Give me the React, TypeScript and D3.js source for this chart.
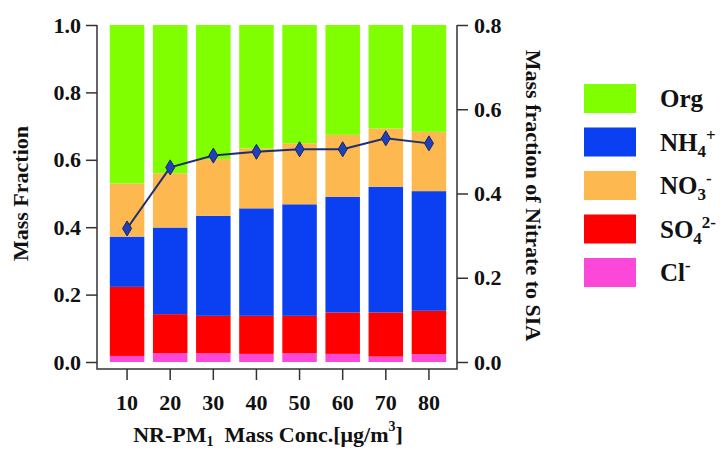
import { useEffect, useRef } from "react";
import * as d3 from "d3";

// NR-PM1 mass concentration bins
const concLabels = ["10", "20", "30", "40", "50", "60", "70", "80"];

// species mass fractions per bin (bottom to top of stack)
const clFrac = [0.018, 0.026, 0.026, 0.024, 0.026, 0.024, 0.016, 0.023];
const so4Frac = [0.205, 0.116, 0.111, 0.113, 0.111, 0.123, 0.131, 0.129];
const nh4Frac = [0.149, 0.257, 0.297, 0.319, 0.331, 0.343, 0.373, 0.355];
const no3Frac = [0.158, 0.161, 0.168, 0.178, 0.181, 0.184, 0.173, 0.176];
const orgFrac = [0.47, 0.44, 0.398, 0.366, 0.351, 0.326, 0.307, 0.317];

// nitrate / SIA (right axis)
const nitrateToSIA = [0.317, 0.462, 0.49, 0.499, 0.505, 0.505, 0.531, 0.519];

const leftTicks = [0, 0.2, 0.4, 0.6, 0.8, 1.0];
const rightTicks = [0, 0.2, 0.4, 0.6, 0.8];

const stackKeys = ["Cl", "SO4", "NH4", "NO3", "Org"];
const colors: Record<string, string> = {
  Org: "#80ff00",
  NH4: "#0a3ff2",
  NO3: "#fdb84f",
  SO4: "#ff0000",
  Cl: "#fb48d8",
};
// legend entries top-down: [key, base, sub, sup]
const legendItems: [string, string, string, string][] = [
  ["Org", "Org", "", ""],
  ["NH4", "NH", "4", "+"],
  ["NO3", "NO", "3", "-"],
  ["SO4", "SO", "4", "2-"],
  ["Cl", "Cl", "", "-"],
];

const FONT = "'Liberation Serif', 'Times New Roman', serif";

export default function App() {
  const svgRef = useRef<SVGSVGElement>(null);

  useEffect(() => {
    const svg = d3.select(svgRef.current);
    svg.selectAll("*").remove();

    const left = 97, right = 457, bottom = 369;
    const yLeft = d3.scaleLinear().domain([0, 1]).range([362, 25]);
    const yRight = d3.scaleLinear().domain([0, 0.8]).range([362, 25]);
    const x = d3
      .scaleBand<string>()
      .domain(concLabels)
      .range([105.5, 450.5])
      .paddingInner(0.2)
      .paddingOuter(0.1);

    const table = concLabels.map((c, i) => ({
      conc: c,
      Cl: clFrac[i],
      SO4: so4Frac[i],
      NH4: nh4Frac[i],
      NO3: no3Frac[i],
      Org: orgFrac[i],
    }));
    const series = d3.stack<any>().keys(stackKeys)(table);

    const bars = svg.append("g");
    series.forEach((s) => {
      bars
        .selectAll(null)
        .data(s)
        .join("rect")
        .attr("x", (d: any) => x(d.data.conc)!)
        .attr("width", x.bandwidth())
        .attr("y", (d) => yLeft(d[1]))
        .attr("height", (d) => yLeft(d[0]) - yLeft(d[1]))
        .attr("fill", colors[s.key]);
    });

    // frame
    const axisColor = "#333";
    svg.append("path")
      .attr("d", `M${left},${yLeft(1)}V${bottom}H${right}V${yRight(0.8)}`)
      .attr("fill", "none")
      .attr("stroke", axisColor)
      .attr("stroke-width", 1.5);

    const styleAxis = (g: any) => {
      g.select(".domain").remove();
      g.selectAll("line").attr("stroke", axisColor).attr("stroke-width", 1.5);
      g.selectAll("text")
        .attr("font-family", FONT)
        .attr("font-weight", "bold")
        .attr("font-size", 22)
        .attr("fill", "#111");
    };

    svg.append("g")
      .attr("transform", `translate(${left},0)`)
      .call(d3.axisLeft(yLeft).tickValues(leftTicks).tickFormat(d3.format(".1f")).tickSize(11).tickPadding(5))
      .call(styleAxis);

    svg.append("g")
      .attr("transform", `translate(${right},0)`)
      .call(d3.axisRight(yRight).tickValues(rightTicks).tickFormat(d3.format(".1f")).tickSize(11).tickPadding(6))
      .call(styleAxis);

    svg.append("g")
      .attr("transform", `translate(0,${bottom})`)
      .call(d3.axisBottom(x).tickSize(11).tickPadding(14))
      .call(styleAxis);

    // nitrate line
    const cx = (i: number) => x(concLabels[i])! + x.bandwidth() / 2;
    const lineGen = d3
      .line<number>()
      .x((_, i) => cx(i))
      .y((d) => yRight(d));
    svg.append("path")
      .datum(nitrateToSIA)
      .attr("d", lineGen)
      .attr("fill", "none")
      .attr("stroke", "#1c2f72")
      .attr("stroke-width", 2);
    svg.append("g")
      .selectAll("path")
      .data(nitrateToSIA)
      .join("path")
      .attr("transform", (d, i) => `translate(${cx(i)},${yRight(d)})`)
      .attr("d", "M0,-7.5L4.5,0L0,7.5L-4.5,0Z")
      .attr("fill", "#1f40b8")
      .attr("stroke", "#16256a")
      .attr("stroke-width", 1);

    // axis titles
    const title = (t: any, size = 22) =>
      t.attr("font-family", FONT).attr("font-weight", "bold").attr("font-size", size).attr("fill", "#111");

    svg.append("text")
      .attr("transform", `translate(28,${(yLeft(0) + yLeft(1)) / 2}) rotate(-90)`)
      .attr("text-anchor", "middle")
      .call(title)
      .text("Mass Fraction");

    svg.append("text")
      .attr("transform", `translate(526,${(yRight(0) + yRight(0.8)) / 2 + 2}) rotate(90)`)
      .attr("text-anchor", "middle")
      .call(title)
      .text("Mass fraction of Nitrate to SIA");

    const xt = svg.append("text")
      .attr("x", 268)
      .attr("y", 442)
      .attr("text-anchor", "middle")
      .call(title);
    xt.append("tspan").text("NR-PM");
    xt.append("tspan").attr("font-size", 14).attr("dy", 4).text("1");
    xt.append("tspan").attr("dy", -4).text("\u00a0 Mass Conc.[\u03bcg/m");
    xt.append("tspan").attr("font-size", 14).attr("dy", -11).text("3");
    xt.append("tspan").attr("dy", 11).text("]");

    // legend
    const lg = svg.append("g");
    legendItems.forEach(([key, base, sub, sup], i) => {
      const y0 = 84 + i * 43.5;
      lg.append("rect")
        .attr("x", 584)
        .attr("y", y0)
        .attr("width", 52)
        .attr("height", 29)
        .attr("fill", colors[key]);
      const t = lg.append("text")
        .attr("x", 660)
        .attr("y", y0 + 23)
        .call(title, 25);
      t.append("tspan").text(base);
      if (sub) t.append("tspan").attr("font-size", 17).attr("dy", 6).text(sub);
      if (sup)
        t.append("tspan")
          .attr("font-size", 17)
          .attr("dy", sub ? -16 : -10)
          .text(sup);
    });
  }, []);

  return (
    <svg
      ref={svgRef}
      width={722}
      height={450}
      style={{ position: "absolute", left: 0, top: 0, background: "#fff" }}
    />
  );
}
